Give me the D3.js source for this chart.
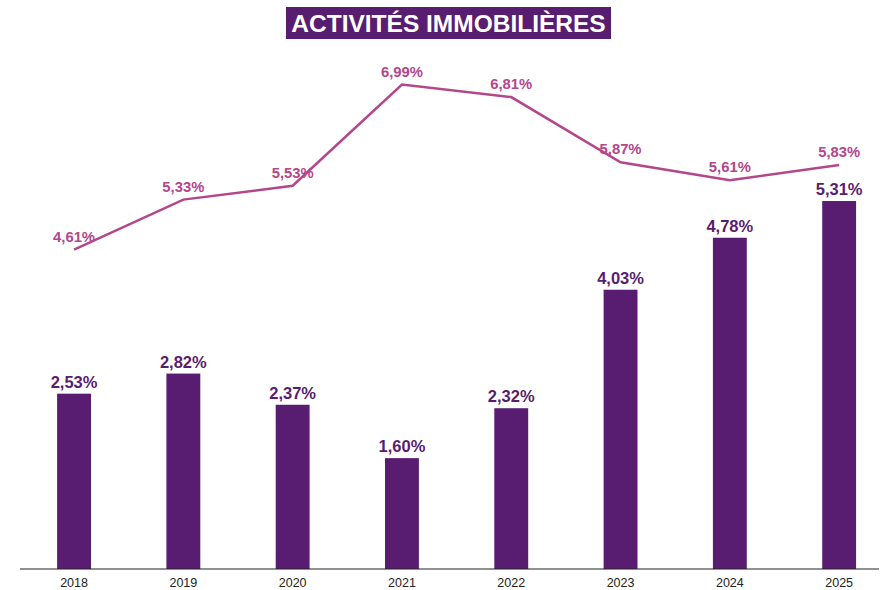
<!DOCTYPE html>
<html>
<head>
<meta charset="utf-8">
<title>Activités immobilières</title>
<script src="https://cdn.jsdelivr.net/npm/d3@7"></script>
<style>
  body { margin: 0; background: #fff; }
  text { font-family: "Liberation Sans", Arial, sans-serif; }
</style>
</head>
<body>
<div id="chart"></div>
<script>
// data
var years = ["2018", "2019", "2020", "2021", "2022", "2023", "2024", "2025"];
var barValues = [2.53, 2.82, 2.37, 1.60, 2.32, 4.03, 4.78, 5.31];
var lineValues = [4.61, 5.33, 5.53, 6.99, 6.81, 5.87, 5.61, 5.83];
var title = "ACTIVITÉS IMMOBILIÈRES";

var width = 881, height = 590;
var purple = "#581d70", pink = "#b4468c";

var svg = d3.select("#chart").append("svg")
    .attr("width", width)
    .attr("height", height);

// scales
var x = d3.scaleBand()
    .domain(years)
    .range([19.4, 893.8])
    .paddingInner(0.69)
    .paddingOuter(0.345);

var y = d3.scaleLinear()
    .domain([0, 8])
    .range([569, 569 - 8 * 69.3]);

var fmt = function(v) { return d3.format(".2f")(v).replace(".", ",") + "%"; };
var cx = function(d, i) { return x(years[i]) + x.bandwidth() / 2; };

// title box
var tg = svg.append("g");
tg.append("rect")
    .attr("x", 286).attr("y", 7)
    .attr("width", 325).attr("height", 32)
    .attr("fill", purple);
tg.append("text")
    .attr("x", 448.5).attr("y", 31.5)
    .attr("text-anchor", "middle")
    .attr("fill", "#fff")
    .attr("font-size", 24.5)
    .attr("font-weight", "bold")
    .text(title);

// bars
svg.append("g").selectAll("rect")
    .data(barValues)
    .enter().append("rect")
    .attr("x", function(d, i) { return x(years[i]); })
    .attr("y", function(d) { return y(d); })
    .attr("width", x.bandwidth())
    .attr("height", function(d) { return y(0) - y(d); })
    .attr("fill", purple);

svg.append("g").selectAll("text")
    .data(barValues)
    .enter().append("text")
    .attr("x", cx)
    .attr("y", function(d) { return y(d) - 6; })
    .attr("text-anchor", "middle")
    .attr("fill", purple)
    .attr("font-size", 16.5)
    .attr("font-weight", "bold")
    .text(fmt);

// line
var line = d3.line()
    .x(function(d, i) { return cx(d, i); })
    .y(function(d) { return y(d); });

svg.append("path")
    .datum(lineValues)
    .attr("d", line)
    .attr("fill", "none")
    .attr("stroke", pink)
    .attr("stroke-width", 2.5);

svg.append("g").selectAll("text")
    .data(lineValues)
    .enter().append("text")
    .attr("x", cx)
    .attr("y", function(d) { return y(d) - 8; })
    .attr("text-anchor", "middle")
    .attr("fill", pink)
    .attr("font-size", 14.8)
    .attr("font-weight", "bold")
    .text(fmt);

// x axis
var xAxis = d3.axisBottom(x).tickSize(0).tickPadding(9);
var ax = svg.append("g")
    .attr("transform", "translate(0," + y(0) + ")")
    .call(xAxis);
ax.select(".domain").remove();
ax.append("line")
    .attr("x1", 20).attr("x2", 879)
    .attr("stroke", "#222").attr("stroke-width", 1.2);
ax.selectAll(".tick text")
    .attr("font-size", 12.5)
    .attr("fill", "#222")
    .style("font-family", "'Liberation Sans', Arial, sans-serif");
</script>
</body>
</html>
